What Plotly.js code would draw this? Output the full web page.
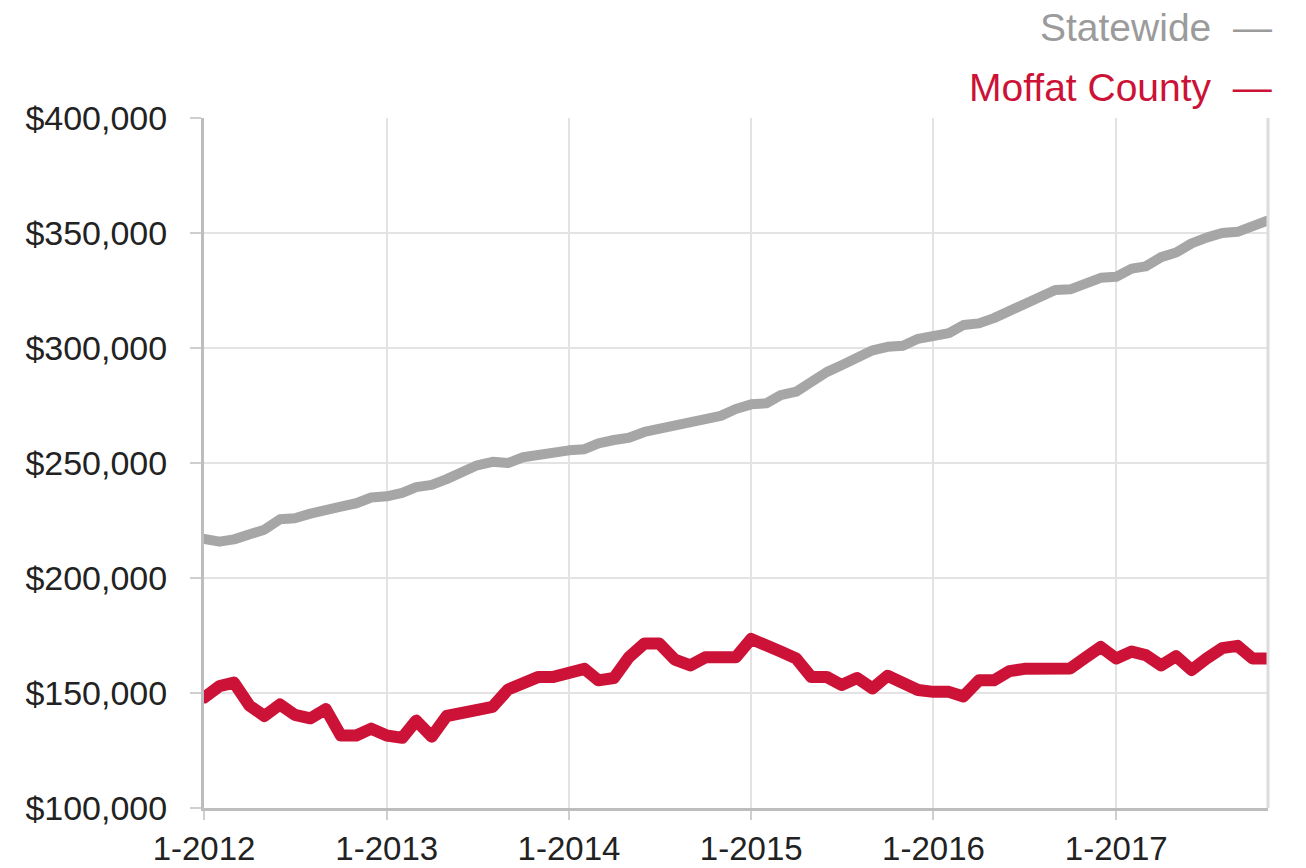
<!DOCTYPE html>
<html>
<head>
<meta charset="utf-8">
<script src="https://cdn.plot.ly/plotly-3.0.1.min.js"></script>
<style>
html,body{margin:0;padding:0;background:#fff;}
#chart{width:1306px;height:868px;}
#chart .scatterlayer path.js-line{stroke-linejoin:round;stroke-linecap:round;}
</style>
</head>
<body>
<div id="chart"></div>
<script>
// Months (Jan 2012 - Nov 2017)
var months = [
  "2012-01-01","2012-02-01","2012-03-01","2012-04-01","2012-05-01","2012-06-01","2012-07-01","2012-08-01","2012-09-01","2012-10-01","2012-11-01","2012-12-01",
  "2013-01-01","2013-02-01","2013-03-01","2013-04-01","2013-05-01","2013-06-01","2013-07-01","2013-08-01","2013-09-01","2013-10-01","2013-11-01","2013-12-01",
  "2014-01-01","2014-02-01","2014-03-01","2014-04-01","2014-05-01","2014-06-01","2014-07-01","2014-08-01","2014-09-01","2014-10-01","2014-11-01","2014-12-01",
  "2015-01-01","2015-02-01","2015-03-01","2015-04-01","2015-05-01","2015-06-01","2015-07-01","2015-08-01","2015-09-01","2015-10-01","2015-11-01","2015-12-01",
  "2016-01-01","2016-02-01","2016-03-01","2016-04-01","2016-05-01","2016-06-01","2016-07-01","2016-08-01","2016-09-01","2016-10-01","2016-11-01","2016-12-01",
  "2017-01-01","2017-02-01","2017-03-01","2017-04-01","2017-05-01","2017-06-01","2017-07-01","2017-08-01","2017-09-01","2017-10-01","2017-11-01"
];

// Statewide median sales price
var statewide = [
  217000,215800,216800,218500,221000,225500,226000,228000,230000,231000,232500,235000,
  235500,237000,239500,240500,243000,246000,249000,250500,250000,252500,253500,255500,
  255500,256000,258500,260000,261000,263500,265000,266000,268000,270000,270500,273500,
  275500,276000,279500,281000,285500,289500,292500,295500,299000,300500,301000,304000,
  305000,306500,310000,310700,313000,316000,319000,322000,325200,325500,328000,330500,
  331000,334500,335500,339500,341500,345500,348000,350000,350500,353000,355500
];

// Moffat County median sales price
var moffat = [
  148000,153000,154500,144500,140000,145000,140500,139000,143000,131500,131500,134500,
  131500,130500,138000,131000,140000,141000,142500,144000,151500,154000,157000,157000,
  159000,160500,155500,156500,165500,171500,171500,164500,162000,165500,165500,165500,
  173500,170000,168000,165000,157000,157000,153500,156500,152000,157500,154000,151300,
  150500,150500,148500,155500,155500,159500,160500,160700,160700,160700,165500,170000,
  165000,168000,166500,162000,166000,160000,165000,169500,170500,165000,165000
];

var seriesNames = ["Statewide", "Moffat County"];
var seriesColors = ["#a6a6a6", "#cc1236"];

var xTickVals = ["2012-01-01","2013-01-01","2014-01-01","2015-01-01","2016-01-01","2017-01-01"];
var xTickText = ["1-2012","1-2013","1-2014","1-2015","1-2016","1-2017"];
var yTickVals = [100000,150000,200000,250000,300000,350000,400000];
var yTickText = ["$100,000","$150,000","$200,000","$250,000","$300,000","$350,000","$400,000"];

var FONT = "Liberation Sans, Arial, Helvetica, sans-serif";

var traces = [
  {x: months, y: statewide, name: seriesNames[0], type: "scatter", mode: "lines",
   line: {color: seriesColors[0], width: 10}, hoverinfo: "x+y"},
  {x: months, y: moffat, name: seriesNames[1], type: "scatter", mode: "lines",
   line: {color: seriesColors[1], width: 12}, hoverinfo: "x+y"}
];

var layout = {
  width: 1306, height: 868,
  margin: {l: 204, r: 38, t: 118, b: 60, pad: 0},
  paper_bgcolor: "#ffffff", plot_bgcolor: "#ffffff",
  showlegend: false,
  font: {family: FONT, size: 34, color: "#222222"},
  xaxis: {
    type: "date",
    range: ["2012-01-01", "2017-11-01"],
    tickmode: "array", tickvals: xTickVals, ticktext: xTickText,
    showgrid: true, gridcolor: "#e3e3e3", gridwidth: 2,
    showline: true, linecolor: "#bdbdbd", linewidth: 3,
    ticks: "outside", ticklen: 9, tickwidth: 2, tickcolor: "#cfcfcf",
    ticklabelstandoff: 0,
    tickfont: {family: FONT, size: 33, color: "#222222"},
    zeroline: false, fixedrange: true
  },
  yaxis: {
    range: [100000, 400000],
    tickmode: "array", tickvals: yTickVals, ticktext: yTickText,
    showgrid: true, gridcolor: "#e3e3e3", gridwidth: 2,
    showline: true, linecolor: "#bdbdbd", linewidth: 3,
    ticks: "outside", ticklen: 11, tickwidth: 2, tickcolor: "#cfcfcf",
    ticklabelstandoff: 16,
    tickfont: {family: FONT, size: 34, color: "#222222"},
    zeroline: false, fixedrange: true
  },
  shapes: [
    {type: "line", xref: "paper", yref: "paper", x0: 1, x1: 1, y0: 0, y1: 1,
     line: {color: "#dcdcdc", width: 3}}
  ],
  annotations: [
    {xref: "paper", yref: "paper", x: 1.006, y: 1.131, xanchor: "right", yanchor: "middle",
     text: seriesNames[0] + "  \u2014", showarrow: false,
     font: {family: FONT, size: 39, color: "#9b9b9b"}},
    {xref: "paper", yref: "paper", x: 1.006, y: 1.044, xanchor: "right", yanchor: "middle",
     text: seriesNames[1] + "  \u2014", showarrow: false,
     font: {family: FONT, size: 39, color: seriesColors[1]}}
  ]
};

Plotly.newPlot("chart", traces, layout, {displayModeBar: false, staticPlot: true});
</script>
</body>
</html>
